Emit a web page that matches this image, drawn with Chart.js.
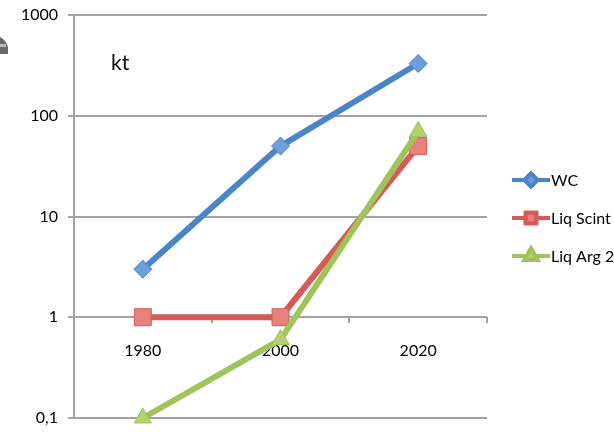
<!DOCTYPE html>
<html>
<head>
<meta charset="utf-8">
<script src="https://cdn.jsdelivr.net/npm/chart.js@4/dist/chart.umd.min.js"></script>
<style>
  html, body { margin: 0; padding: 0; background: #fff; }
  canvas { display: block; }
</style>
</head>
<body>
<canvas id="chart" width="614" height="432"></canvas>
<script>
// data
const years = ['1980', '2000', '2020'];
const wcValues = [3, 50, 330];
const liqScintValues = [1, 1, 50];
const liqArgValues = [0.1, 0.6, 70];
const yTickValues = [0.1, 1, 10, 100, 1000];
const seriesNames = ['WC', 'Liq Scint', 'Liq Arg 2'];
const unitLabel = 'kt';

const gridGrey = '#a3a3a3';
const fontFamily = 'Lato, "Open Sans", sans-serif';

// draws the "kt" label, the side legend and the little clipped icon
const extrasPlugin = {
  id: 'extras',
  afterDraw(chart) {
    const ctx = chart.ctx;
    ctx.save();

    // clipped icon at the left edge
    ctx.fillStyle = '#6a6a6a';
    ctx.beginPath();
    ctx.moveTo(0, 37);
    ctx.quadraticCurveTo(6, 40, 8, 47);
    ctx.lineTo(8, 54);
    ctx.lineTo(0, 54);
    ctx.closePath();
    ctx.fill();
    ctx.fillStyle = '#bdbdbd';
    ctx.fillRect(0, 44, 6, 3);

    ctx.fillStyle = '#000';
    ctx.font = '21px ' + fontFamily;
    ctx.textBaseline = 'middle';
    ctx.textAlign = 'left';
    ctx.fillText(unitLabel, 111, 63);

    const legendY = [180, 218, 256];
    chart.data.datasets.forEach((ds, i) => {
      const y = legendY[i];
      ctx.strokeStyle = ds.borderColor;
      ctx.lineWidth = 4;
      ctx.beginPath();
      ctx.moveTo(512, y);
      ctx.lineTo(550, y);
      ctx.stroke();
      Chart.helpers.drawPoint(ctx, {
        pointStyle: ds.pointStyle,
        radius: ds.legendRadius,
        rotation: 0,
        borderWidth: 1
      }, 531, y);
      ctx.fillStyle = ds.pointBackgroundColor;
      ctx.strokeStyle = ds.pointBorderColor;
      ctx.fill();
      ctx.stroke();
      ctx.fillStyle = '#000';
      ctx.font = '16px ' + fontFamily;
      ctx.fillText(ds.label, 551, y + 1);
    });
    ctx.restore();
  }
};

new Chart(document.getElementById('chart'), {
  type: 'line',
  data: {
    labels: years,
    datasets: [
      {
        label: seriesNames[0],
        data: wcValues,
        borderColor: '#4a86c6',
        pointBackgroundColor: '#6b9fd9',
        pointBorderColor: '#4a86c6',
        pointStyle: 'rectRot',
        pointRadius: 9,
        legendRadius: 6.5,
        order: 2
      },
      {
        label: seriesNames[1],
        data: liqScintValues,
        borderColor: '#d65a55',
        pointBackgroundColor: '#e8807c',
        pointBorderColor: '#d65a55',
        pointStyle: 'rect',
        pointRadius: 12,
        legendRadius: 7.5,
        order: 1
      },
      {
        label: seriesNames[2],
        data: liqArgValues,
        borderColor: '#9fc45a',
        pointBackgroundColor: '#b2d272',
        pointBorderColor: '#9fc45a',
        pointStyle: 'triangle',
        pointRadius: 10,
        legendRadius: 7.5,
        order: 0
      }
    ]
  },
  options: {
    responsive: false,
    animation: false,
    clip: false,
    elements: {
      line: { borderWidth: 6, tension: 0, borderCapStyle: 'round', borderJoinStyle: 'round' },
      point: { borderWidth: 1, hoverRadius: 9 }
    },
    layout: { padding: { left: 0, top: 15, right: 127, bottom: 14 } },
    plugins: {
      legend: { display: false },
      tooltip: { enabled: false }
    },
    scales: {
      x: {
        type: 'category',
        offset: true,
        position: { y: 1 },
        afterFit: (scale) => {
          scale.paddingLeft = 0; scale.paddingRight = 0;
          scale.paddingTop = 0; scale.paddingBottom = 0;
        },
        grid: {
          drawOnChartArea: false,
          drawTicks: true,
          tickLength: 6,
          offset: true,
          color: gridGrey,
          lineWidth: 2
        },
        border: { display: false },
        ticks: {
          padding: 18,
          color: '#000',
          font: { family: fontFamily, size: 16 }
        }
      },
      y: {
        type: 'logarithmic',
        min: 0.1,
        max: 1000,
        afterBuildTicks: (scale) => {
          scale.ticks = yTickValues.map(v => ({ value: v }));
        },
        afterFit: (scale) => {
          scale.width = 74;
          scale.paddingTop = 0; scale.paddingBottom = 0;
        },
        grid: { color: gridGrey, lineWidth: 2, tickLength: 6 },
        border: { color: gridGrey, width: 2 },
        ticks: {
          padding: 10,
          color: '#000',
          font: { family: fontFamily, size: 16 },
          callback: (v) => String(v).replace('.', ',')
        }
      }
    }
  },
  plugins: [extrasPlugin]
});
</script>
</body>
</html>
